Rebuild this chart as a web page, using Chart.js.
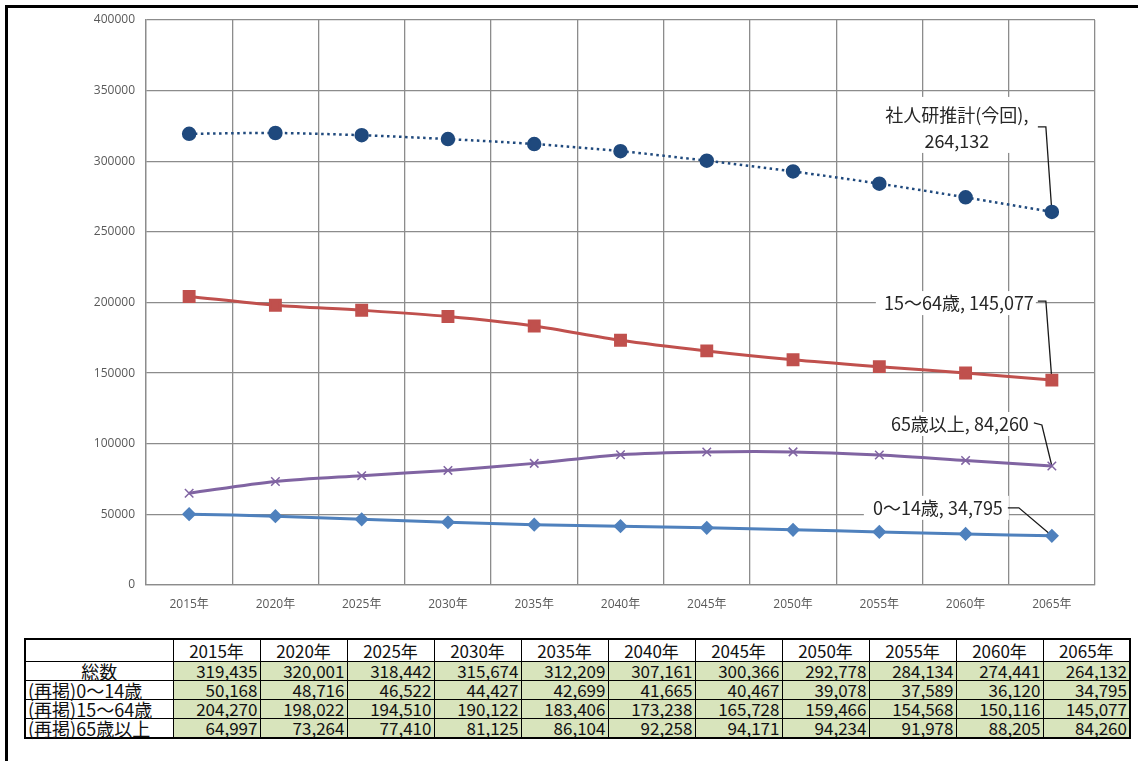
<!DOCTYPE html>
<html>
<head>
<meta charset="utf-8">
<script src="https://cdn.jsdelivr.net/npm/chart.js@4.4.1/dist/chart.umd.min.js"></script>
<style>
  html, body { margin: 0; padding: 0; background: #fff; }
  body { width: 1138px; height: 761px; position: relative; overflow: hidden; }
  #frame { position: absolute; left: 5px; top: 5px; width: 1140px; height: 770px;
           border-top: 3px solid #000; border-left: 3px solid #000; }
  #chartBox { position: absolute; left: 0; top: 0; width: 1138px; height: 630px; }
  #tbl { position: absolute; left: 24px; top: 638px; width: 1104px; table-layout: fixed;
         border-collapse: collapse; border: 2px solid #000;
         font-family: "Noto Sans CJK JP", sans-serif; font-size: 17px; color: #111; }
  #tbl td { border: 1px solid #000; padding: 0 2px; height: 18px; line-height: 18px; white-space: nowrap; }
  #tbl tr:first-child td { height: 21px; line-height: 21px; text-align: center; background: #fff; }
  #tbl td.num { background: #d8e4bc; text-align: right; }
  #tbl td.head { text-align: left; background: #fff; font-size: 18px; }
  #tbl td.center { text-align: center; }
</style>
</head>
<body>
<div id="frame"></div>
<div id="chartBox"><canvas id="myChart"></canvas></div>
<table id="tbl"></table>
<script>
const years = ['2015年', '2020年', '2025年', '2030年', '2035年', '2040年', '2045年', '2050年', '2055年', '2060年', '2065年'];
const total = [319435, 320001, 318442, 315674, 312209, 307161, 300366, 292778, 284134, 274441, 264132];
const age0to14 = [50168, 48716, 46522, 44427, 42699, 41665, 40467, 39078, 37589, 36120, 34795];
const age15to64 = [204270, 198022, 194510, 190122, 183406, 173238, 165728, 159466, 154568, 150116, 145077];
const age65plus = [64997, 73264, 77410, 81125, 86104, 92258, 94171, 94234, 91978, 88205, 84260];
const seriesNames = ['社人研推計(今回)', '15～64歳', '65歳以上', '0～14歳'];
const rowNames = ['総数', '(再掲)0～14歳', '(再掲)15～64歳', '(再掲)65歳以上'];

// table under the chart
const tbl = document.getElementById('tbl');
let html = '<colgroup><col style="width:148px">' + years.map(() => '<col style="width:87px">').join('') + '</colgroup>';
html += '<tr><td class="head"></td>' + years.map(y => '<td>' + y + '</td>').join('') + '</tr>';
[total, age0to14, age15to64, age65plus].forEach((row, i) => {
    html += '<tr><td class="head' + (i === 0 ? ' center' : '') + '">' + rowNames[i] + '</td>' +
        row.map(v => '<td class="num">' + v.toLocaleString('en-US') + '</td>').join('') + '</tr>';
});
tbl.innerHTML = html;

// callouts next to the last point of each series (offsets from that point)
const callouts = [
    { ds: 0, lines: [seriesNames[0] + ',', total[10].toLocaleString('en-US')], align: 'center', tx: -95, ty: [-97, -71],
      box: [-175, -115, 160, 56], lead: [[-14, -85], [-6, -85]] },
    { ds: 1, lines: [seriesNames[1] + ', ' + age15to64[10].toLocaleString('en-US')], align: 'right', tx: -18, ty: [-77],
      box: [-176, -89, 160, 24], lead: [[-14, -79], [-6, -79]] },
    { ds: 2, lines: [seriesNames[2] + ', ' + age65plus[10].toLocaleString('en-US')], align: 'right', tx: -23, ty: [-42],
      box: [-170, -54, 150, 24], lead: [[-18, -43], [-10, -41]] },
    { ds: 3, lines: [seriesNames[3] + ', ' + age0to14[10].toLocaleString('en-US')], align: 'right', tx: -49, ty: [-28],
      box: [-188, -40, 145, 24], lead: [[-44, -28], [-33, -28]] }
];

const calloutPlugin = {
    id: 'callouts',
    beforeDatasetsDraw(chart) {
        const ctx = chart.ctx;
        ctx.save();
        callouts.forEach(c => {
            const pt = chart.getDatasetMeta(c.ds).data[10];
            const px = pt.x, py = pt.y;
            ctx.fillStyle = '#fff';
            ctx.fillRect(px + c.box[0], py + c.box[1], c.box[2], c.box[3]);
            ctx.strokeStyle = '#1a1a1a';
            ctx.lineWidth = 1.3;
            ctx.beginPath();
            ctx.moveTo(px + c.lead[0][0], py + c.lead[0][1]);
            ctx.lineTo(px + c.lead[1][0], py + c.lead[1][1]);
            ctx.lineTo(px, py);
            ctx.stroke();
            ctx.fillStyle = '#262626';
            ctx.font = '18px "Noto Sans CJK JP", sans-serif';
            ctx.textAlign = c.align;
            ctx.textBaseline = 'middle';
            c.lines.forEach((t, i) => ctx.fillText(t, px + c.tx, py + c.ty[i]));
        });
        ctx.restore();
    }
};

const data = {
    labels: years,
    datasets: [{
        label: seriesNames[0],
        data: total,
        borderColor: '#1f497d',
        backgroundColor: '#1f497d',
        borderWidth: 2.5,
        borderDash: [2.5, 3.5],
        pointStyle: 'circle',
        pointRadius: 6,
        tension: 0.3
    }, {
        label: seriesNames[1],
        data: age15to64,
        borderColor: '#c0504d',
        backgroundColor: '#c0504d',
        borderWidth: 3,
        pointStyle: 'rect',
        pointRadius: 7,
        tension: 0.3
    }, {
        label: seriesNames[2],
        data: age65plus,
        borderColor: '#8064a2',
        backgroundColor: '#8064a2',
        borderWidth: 3,
        pointStyle: 'crossRot',
        pointRadius: 6,
        pointBorderWidth: 1.5,
        tension: 0.3
    }, {
        label: seriesNames[3],
        data: age0to14,
        borderColor: '#4f81bd',
        backgroundColor: '#4f81bd',
        borderWidth: 3,
        pointStyle: 'rectRot',
        pointRadius: 5,
        tension: 0.3
    }]
};

const config = {
    type: 'line',
    data: data,
    plugins: [calloutPlugin],
    options: {
        responsive: true,
        maintainAspectRatio: false,
        animation: false,
        layout: { padding: { left: 0, right: 43, top: 20, bottom: 0 } },
        plugins: { legend: { display: false }, tooltip: { enabled: false } },
        scales: {
            x: {
                offset: true,
                grid: { offset: true, color: '#8c8c8c', lineWidth: 1.3, drawTicks: false },
                border: { color: '#8c8c8c', width: 1.3 },
                ticks: { color: '#595959', padding: 12, font: { family: '"Open Sans", "Noto Sans CJK JP"', size: 12 } },
                afterFit: (scale) => { scale.height = 45; }
            },
            y: {
                min: 0,
                max: 400000,
                ticks: { stepSize: 50000, color: '#595959', padding: 11, font: { family: '"Open Sans"', size: 12 },
                         callback: (v) => String(v) },
                grid: { color: '#8c8c8c', lineWidth: 1.3, drawTicks: false },
                border: { color: '#8c8c8c', width: 1.3 },
                afterFit: (scale) => { scale.width = 146; }
            }
        }
    }
};

const myChart = new Chart(
    document.getElementById('myChart'),
    config
);
</script>
</body>
</html>
